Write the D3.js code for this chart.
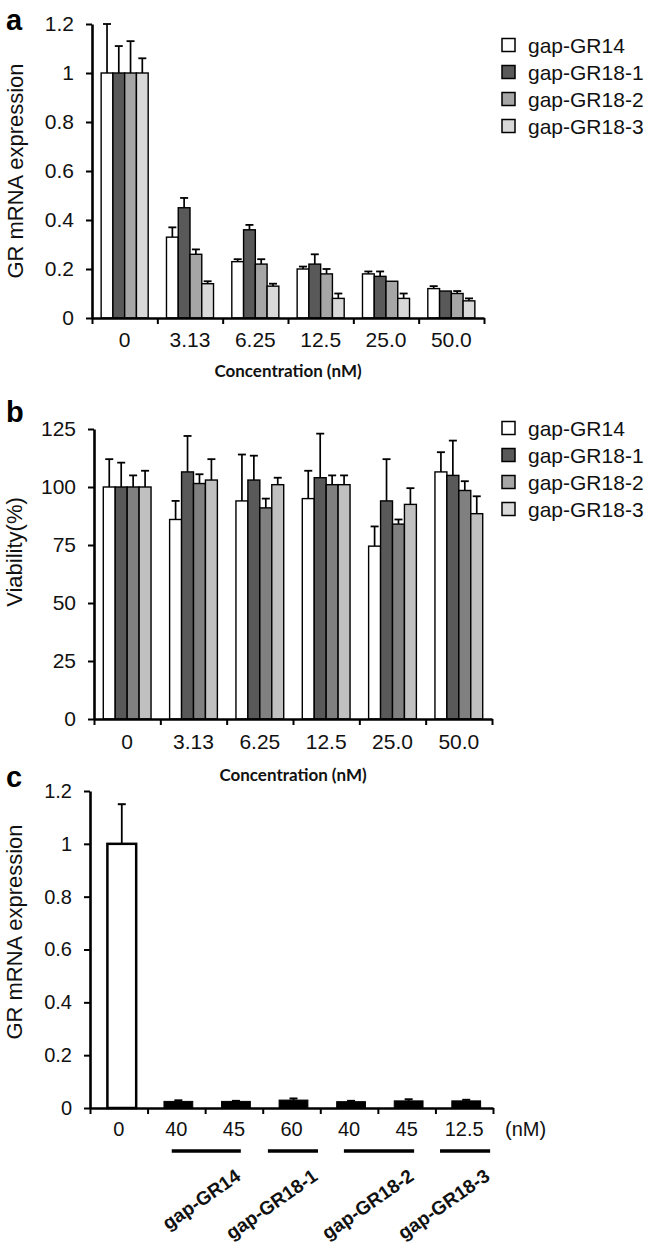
<!DOCTYPE html>
<html><head><meta charset="utf-8">
<script src="https://cdn.jsdelivr.net/npm/d3@7"></script>
<style>body{margin:0;background:#fff} svg{display:block}</style></head>
<body>
<svg id="chart" width="646" height="1249"></svg>
<script>
// ---------- data ----------
const concentrations = ["0", "3.13", "6.25", "12.5", "25.0", "50.0"];
const seriesNames = ["gap-GR14", "gap-GR18-1", "gap-GR18-2", "gap-GR18-3"];

// panel a: GR mRNA expression (mean, sd)
const exprGR14   = [1, 0.33, 0.23, 0.20, 0.18, 0.12];
const exprGR18_1 = [1, 0.45, 0.36, 0.22, 0.17, 0.11];
const exprGR18_2 = [1, 0.26, 0.22, 0.18, 0.15, 0.10];
const exprGR18_3 = [1, 0.14, 0.13, 0.08, 0.08, 0.07];
const exprErrGR14   = [0.20, 0.04, 0.01, 0.01, 0.01, 0.01];
const exprErrGR18_1 = [0.11, 0.04, 0.02, 0.04, 0.02, 0];
const exprErrGR18_2 = [0.13, 0.02, 0.02, 0.02, 0, 0.01];
const exprErrGR18_3 = [0.06, 0.01, 0.01, 0.02, 0.02, 0.01];

// panel b: viability (%)
const viabGR14   = [100, 86, 94, 95, 74.5, 106.5];
const viabGR18_1 = [100, 106.5, 103, 104, 94, 105];
const viabGR18_2 = [100, 101.5, 91, 101, 84, 98.5];
const viabGR18_3 = [100, 103, 101, 101, 92.5, 88.5];
const viabErrGR14   = [12, 8, 20, 12, 8.5, 8.5];
const viabErrGR18_1 = [10.5, 15.5, 10.5, 19, 18, 15];
const viabErrGR18_2 = [5, 4, 4, 4, 2, 4];
const viabErrGR18_3 = [7, 9, 3, 4, 7, 7.5];

// panel c
const knockLabels = ["0", "40", "45", "60", "40", "45", "12.5"];
const knockMean = [1, 0.025, 0.025, 0.03, 0.024, 0.027, 0.027];
const knockErr  = [0.15, 0.004, 0.002, 0.006, 0.003, 0.006, 0.004];
const knockGroups = ["gap-GR14", "gap-GR18-1", "gap-GR18-2", "gap-GR18-3"];
// extent of each group's underline, in category units along the x axis
const knockGroupStart = [1.42, 3.09, 4.41, 6.08];
const knockGroupEnd   = [2.62, 3.96, 5.63, 6.95];

const exprTicks = [0, 0.2, 0.4, 0.6, 0.8, 1, 1.2];
const viabTicks = [0, 25, 50, 75, 100, 125];

// ---------- styles ----------
const colorsA = ["#ffffff", "#595959", "#a6a6a6", "#d9d9d9"];
const colorsB = ["#ffffff", "#595959", "#808080", "#c0c0c0"];
const legendColors = ["#ffffff", "#595959", "#a6a6a6", "#d9d9d9"];
const FONT = "'Liberation Sans', Arial, Helvetica, sans-serif";

const svg = d3.select("#chart");

function styleAxis(g, size) {
  g.attr("font-family", FONT).attr("font-size", size);
  g.select(".domain").attr("stroke", "#000").attr("stroke-width", 2.6);
  g.selectAll(".tick line").attr("stroke", "#000").attr("stroke-width", 2);
  g.selectAll(".tick text").attr("fill", "#111");
}

function groupedPanel(opt) {
  const {x0, x1, yBottom, yTop, domainMax, ticks, tickFmt, means, errs, colors} = opt;
  const y = d3.scaleLinear().domain([0, domainMax]).range([yBottom, yTop]);
  const xg = d3.scaleBand().domain(concentrations).range([x0, x1]).padding(0);
  const pad = xg.bandwidth() * 0.14;
  const xs = d3.scaleBand().domain(d3.range(seriesNames.length)).range([pad, xg.bandwidth() - pad]).padding(0);

  const data = [];
  concentrations.forEach((c, ci) => {
    seriesNames.forEach((s, si) => data.push({c, si, v: means[si][ci], e: errs[si][ci]}));
  });

  const g = svg.append("g");
  data.filter(d => d.e > 0).forEach(d => {
    const cx = xg(d.c) + xs(d.si) + xs.bandwidth() / 2;
    g.append("line").attr("x1", cx).attr("x2", cx).attr("y1", y(d.v)).attr("y2", y(d.v + d.e))
      .attr("stroke", "#000").attr("stroke-width", 1.7);
    g.append("line").attr("x1", cx - 4).attr("x2", cx + 4).attr("y1", y(d.v + d.e)).attr("y2", y(d.v + d.e))
      .attr("stroke", "#000").attr("stroke-width", 1.8);
  });
  g.selectAll("rect.bar").data(data).join("rect")
    .attr("x", d => xg(d.c) + xs(d.si))
    .attr("width", xs.bandwidth())
    .attr("y", d => y(d.v))
    .attr("height", d => yBottom - y(d.v))
    .attr("fill", d => colors[d.si])
    .attr("stroke", "#000").attr("stroke-width", 1.4);

  const ya = svg.append("g").attr("transform", `translate(${x0},0)`)
    .call(d3.axisLeft(y).tickValues(ticks).tickFormat(tickFmt).tickSize(6).tickPadding(12).tickSizeOuter(0));
  styleAxis(ya, 21);
  const xb = d3.scaleLinear().domain([0, concentrations.length]).range([x0, x1]);
  const xa = svg.append("g").attr("transform", `translate(0,${yBottom})`)
    .call(d3.axisBottom(xb).tickValues(d3.range(concentrations.length + 1)).tickFormat("").tickSize(6).tickSizeOuter(0));
  styleAxis(xa, 21);
  const xl = svg.append("g").attr("transform", `translate(0,${yBottom})`)
    .call(d3.axisBottom(xg).tickSize(0).tickPadding(opt.labelPad));
  xl.select(".domain").remove();
  xl.attr("font-family", FONT).attr("font-size", 21);
  xl.selectAll("text").attr("fill", "#111");

  svg.append("text").attr("x", (x0 + x1) / 2).attr("y", opt.titleY)
    .attr("text-anchor", "middle").attr("font-family", "Lato, 'Open Sans', sans-serif")
    .attr("font-weight", "bold").attr("font-size", 17).attr("fill", "#111").text("Concentration (nM)");

  const lg = svg.append("g").attr("transform", `translate(502,${opt.legendY})`);
  seriesNames.forEach((s, i) => {
    const row = lg.append("g").attr("transform", `translate(0,${i * 27})`);
    row.append("rect").attr("x", 0).attr("y", -6.5).attr("width", 13).attr("height", 13)
      .attr("fill", legendColors[i]).attr("stroke", "#000").attr("stroke-width", 1.5);
    row.append("text").attr("x", 26).attr("y", 0).attr("dy", "0.36em")
      .attr("font-family", FONT).attr("font-size", 21).attr("fill", "#111").text(s);
  });
}

const fmtExpr = d => d === 0 ? "0" : d3.format("~g")(d);

groupedPanel({x0: 92, x1: 484, yBottom: 318, yTop: 24, domainMax: 1.2, ticks: exprTicks, tickFmt: fmtExpr,
  means: [exprGR14, exprGR18_1, exprGR18_2, exprGR18_3],
  errs: [exprErrGR14, exprErrGR18_1, exprErrGR18_2, exprErrGR18_3],
  colors: colorsA, labelPad: 14, titleY: 377, legendY: 45});

groupedPanel({x0: 94, x1: 492, yBottom: 719, yTop: 429, domainMax: 125, ticks: viabTicks, tickFmt: d3.format("d"),
  means: [viabGR14, viabGR18_1, viabGR18_2, viabGR18_3],
  errs: [viabErrGR14, viabErrGR18_1, viabErrGR18_2, viabErrGR18_3],
  colors: colorsB, labelPad: 15, titleY: 781, legendY: 428});

// ---------- panel c ----------
(function () {
  const x0 = 90, x1 = 493, yBottom = 1108, yTop = 791;
  const y = d3.scaleLinear().domain([0, 1.2]).range([yBottom, yTop]);
  const idx = d3.range(knockLabels.length);
  const xb = d3.scaleBand().domain(idx).range([x0, x1]).padding(0);
  const bw = xb.bandwidth() * 0.5;
  const g = svg.append("g");
  idx.forEach(i => {
    const cx = xb(i) + xb.bandwidth() / 2 + (i === 0 ? 3 : 2);
    g.append("line").attr("x1", cx).attr("x2", cx).attr("y1", y(knockMean[i])).attr("y2", y(knockMean[i] + knockErr[i]))
      .attr("stroke", "#000").attr("stroke-width", 1.8);
    g.append("line").attr("x1", cx - 4).attr("x2", cx + 4).attr("y1", y(knockMean[i] + knockErr[i])).attr("y2", y(knockMean[i] + knockErr[i]))
      .attr("stroke", "#000").attr("stroke-width", 2);
  });
  g.selectAll("rect").data(idx).join("rect")
    .attr("x", i => xb(i) + (xb.bandwidth() - bw) / 2 + (i === 0 ? 3 : 2))
    .attr("width", bw)
    .attr("y", i => y(knockMean[i]))
    .attr("height", i => yBottom - y(knockMean[i]))
    .attr("fill", i => i === 0 ? "#fff" : "#000")
    .attr("stroke", "#000").attr("stroke-width", i => i === 0 ? 2.5 : 1);

  const ya = svg.append("g").attr("transform", `translate(${x0},0)`)
    .call(d3.axisLeft(y).tickValues(exprTicks).tickFormat(fmtExpr).tickSize(6).tickPadding(12).tickSizeOuter(0));
  styleAxis(ya, 20);
  const xl = d3.scaleLinear().domain([0, knockLabels.length]).range([x0, x1]);
  const xa = svg.append("g").attr("transform", `translate(0,${yBottom})`)
    .call(d3.axisBottom(xl).tickValues(d3.range(knockLabels.length + 1)).tickFormat("").tickSize(6).tickSizeOuter(0));
  styleAxis(xa, 20);
  const xt = svg.append("g").attr("transform", `translate(0,${yBottom})`)
    .call(d3.axisBottom(xb).tickSize(0).tickPadding(14).tickFormat(i => knockLabels[i]));
  xt.select(".domain").remove();
  xt.attr("font-family", FONT).attr("font-size", 20);
  xt.selectAll("text").attr("fill", "#111");
  svg.append("text").attr("x", 505).attr("y", 1136).attr("font-family", FONT).attr("font-size", 20)
    .attr("fill", "#111").text("(nM)");

  knockGroups.forEach((name, k) => {
    const a = xl(knockGroupStart[k]), b = xl(knockGroupEnd[k]);
    svg.append("line").attr("x1", a).attr("x2", b).attr("y1", 1151).attr("y2", 1151)
      .attr("stroke", "#000").attr("stroke-width", 3.5);
    svg.append("text").attr("transform", `translate(${b + 1},1179) rotate(-35)`)
      .attr("text-anchor", "end").attr("font-family", FONT).attr("font-weight", "bold")
      .attr("font-size", 19).attr("fill", "#111").text(name);
  });

  svg.append("text").attr("transform", `translate(22,932) rotate(-90)`).attr("text-anchor", "middle")
    .attr("font-family", FONT).attr("font-size", 22).attr("fill", "#111").text("GR mRNA expression");
})();

// y titles and panel letters
svg.append("text").attr("transform", `translate(23,171) rotate(-90)`).attr("text-anchor", "middle")
  .attr("font-family", FONT).attr("font-size", 22).attr("fill", "#111").text("GR mRNA expression");
svg.append("text").attr("transform", `translate(22,552) rotate(-90)`).attr("text-anchor", "middle")
  .attr("font-family", FONT).attr("font-size", 22).attr("fill", "#111").text("Viability(%)");
[["a", 30], ["b", 422], ["c", 787]].forEach(([t, yy]) => {
  svg.append("text").attr("x", 6).attr("y", yy).attr("font-family", FONT).attr("font-weight", "bold")
    .attr("font-size", 29).attr("fill", "#000").text(t);
});
</script>
</body></html>
